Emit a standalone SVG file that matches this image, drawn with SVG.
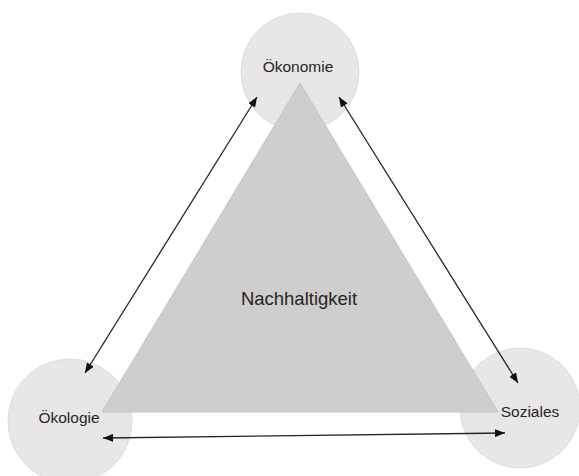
<svg xmlns="http://www.w3.org/2000/svg" width="579" height="476" viewBox="0 0 579 476">
<style>
.circ{fill:#e8e6e7;stroke:#dddbdc;stroke-width:1}
.tri{fill:#d0cdcd;stroke:#c6c3c3;stroke-width:1}
.lbl{font-family:"Liberation Sans",Arial,sans-serif;font-size:15.5px;fill:#262626;text-anchor:middle}
.big{font-size:18.5px}
.conn{stroke:#262626;stroke-width:1.3;fill:none;marker-start:url(#ah);marker-end:url(#ah)}
</style>
<defs>
<marker id="ah" viewBox="0 0 10 8" refX="10" refY="4" markerWidth="10" markerHeight="8" markerUnits="userSpaceOnUse" orient="auto-start-reverse">
<path d="M0,0 L10,4 L0,8 Z" fill="#111"/>
</marker>
</defs>
<rect width="579" height="476" fill="#ffffff"/>
<g id="oekonomie">
<circle class="circ" cx="300" cy="72" r="59"/>
<text class="lbl" x="298" y="72">Ökonomie</text>
</g>
<g id="oekologie">
<circle class="circ" cx="70" cy="421" r="62"/>
<text class="lbl" x="69" y="423">Ökologie</text>
</g>
<g id="soziales">
<circle class="circ" cx="520" cy="408" r="60"/>
<text class="lbl" x="530" y="417">Soziales</text>
</g>
<g id="nachhaltigkeit">
<polygon class="tri" points="300,83 498,412 102,412"/>
<text class="lbl big" x="299" y="305">Nachhaltigkeit</text>
</g>
<g id="connectors">
<line class="conn" x1="85" y1="373" x2="257" y2="97"/>
<line class="conn" x1="339" y1="97" x2="518" y2="383"/>
<line class="conn" x1="103" y1="438" x2="505" y2="433"/>
</g>
</svg>
